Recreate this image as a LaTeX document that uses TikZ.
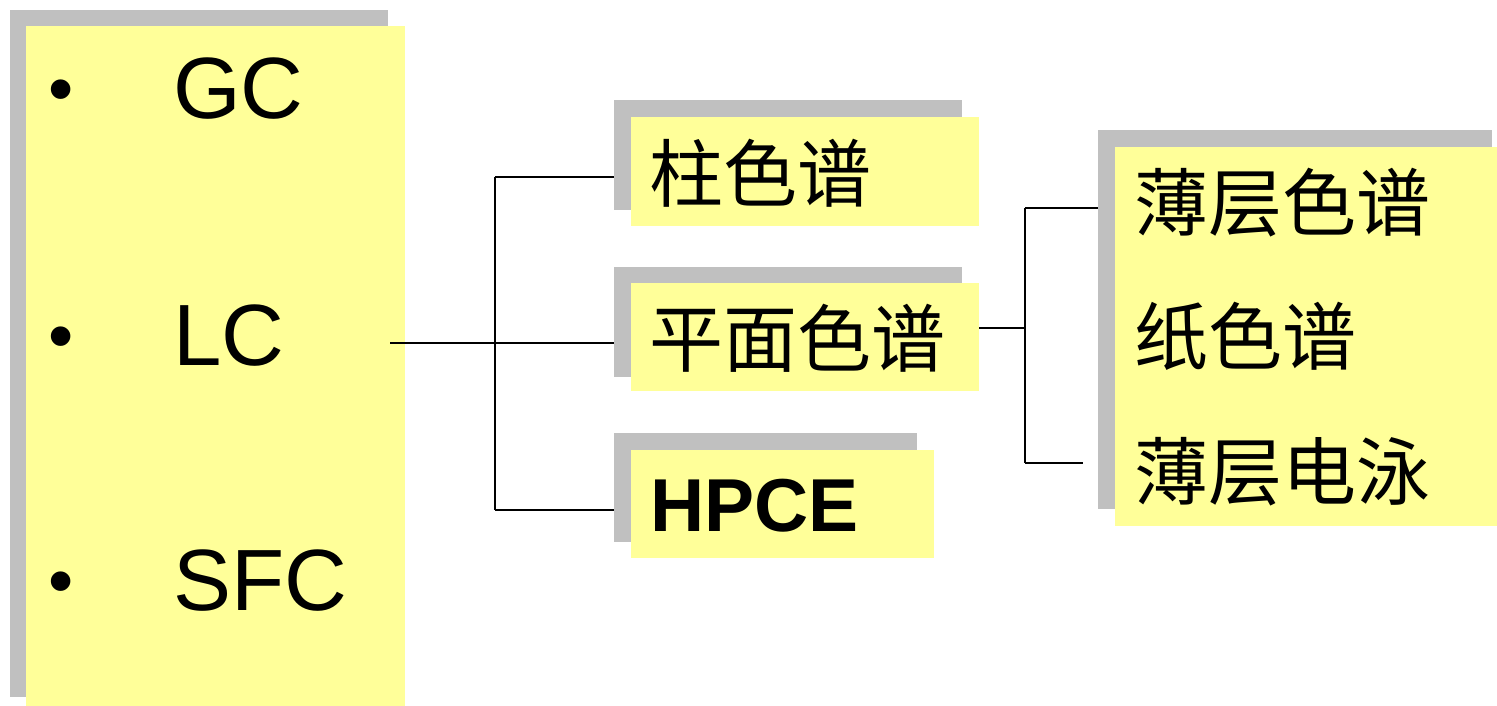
\documentclass[tikz,border=0pt]{standalone}
\usepackage{fontspec}
\setmainfont{Liberation Sans}
\newfontfamily\cjk{Noto Sans CJK SC}
\definecolor{boxyellow}{HTML}{FFFF99}
\definecolor{shadowgray}{HTML}{C0C0C0}
\begin{document}
\begin{tikzpicture}[x=1pt,y=1pt,
  shadowbox/.style={fill=shadowgray, draw=none, inner sep=0, anchor=south west},
  yellowbox/.style={fill=boxyellow, draw=none, inner sep=0, anchor=south west},
  latin/.style={inner sep=0, anchor=west, font=\fontsize{87}{96}\selectfont},
  bulletmark/.style={inner sep=0, anchor=center, font=\fontsize{72}{80}\selectfont},
  cjklabel/.style={inner sep=0, anchor=west, font=\cjk\fontsize{74}{80}\selectfont},
  boldlabel/.style={inner sep=0, anchor=west, font=\bfseries\fontsize{75}{84}\selectfont},
  link/.style={draw=black, line width=1.5pt}]
\useasboundingbox (0,0) rectangle (1497,706);
% left list box
\node[shadowbox, minimum width=378, minimum height=687] (Ls) at (10,9) {};
\node[yellowbox, minimum width=379, minimum height=688] (L) at (26,-8) {};
\node[bulletmark] (b1) at (61,609) {•};
\node[bulletmark] (b2) at (61,362) {•};
\node[bulletmark] (b3) at (61,117) {•};
\node[latin] (gc) at (173,617) {GC};
\node[latin] (lc) at (173,370) {LC};
\node[latin] (sfc) at (173,125) {SFC};
% middle boxes
\node[shadowbox, minimum width=348, minimum height=110] (As) at (614,496) {};
\node[yellowbox, minimum width=348, minimum height=109] (A) at (631,480) {};
\node[cjklabel] (At) at (649,533) {柱色谱};
\node[shadowbox, minimum width=348, minimum height=110] (Bs) at (614,329) {};
\node[yellowbox, minimum width=348, minimum height=108] (B) at (631,315) {};
\node[cjklabel] (Bt) at (649,368) {平面色谱};
\node[shadowbox, minimum width=303, minimum height=109] (Cs) at (614,164) {};
\node[yellowbox, minimum width=303, minimum height=108] (C) at (631,148) {};
\node[boldlabel] (Ct) at (650,200) {HPCE};
% right box
\node[shadowbox, minimum width=394, minimum height=379] (Rs) at (1098,197) {};
\node[yellowbox, minimum width=400, minimum height=379] (R) at (1115,180) {};
\node[cjklabel] (R1) at (1134,503) {薄层色谱};
\node[cjklabel] (R2) at (1134,370) {纸色谱};
\node[cjklabel] (R3) at (1134,234) {薄层电泳};
% connectors
\coordinate (lout) at (390,363);
\coordinate (j1a) at (495,529);
\coordinate (j1c) at (495,196);
\draw[link] (lout) -- (lout -| Bs.west);
\draw[link] (j1a) -- (j1c);
\draw[link] (j1a) -- (j1a -| As.west);
\draw[link] (j1c) -- (j1c -| Cs.west);
\coordinate (bout) at (B.east |- 0,378);
\coordinate (j2) at (1025,378);
\coordinate (j2a) at (1025,498);
\coordinate (j2c) at (1025,243);
\coordinate (r3end) at (1083,243);
\draw[link] (bout) -- (j2);
\draw[link] (j2a) -- (j2c);
\draw[link] (j2a) -- (j2a -| Rs.west);
\draw[link] (j2c) -- (r3end);
\end{tikzpicture}
\end{document}
